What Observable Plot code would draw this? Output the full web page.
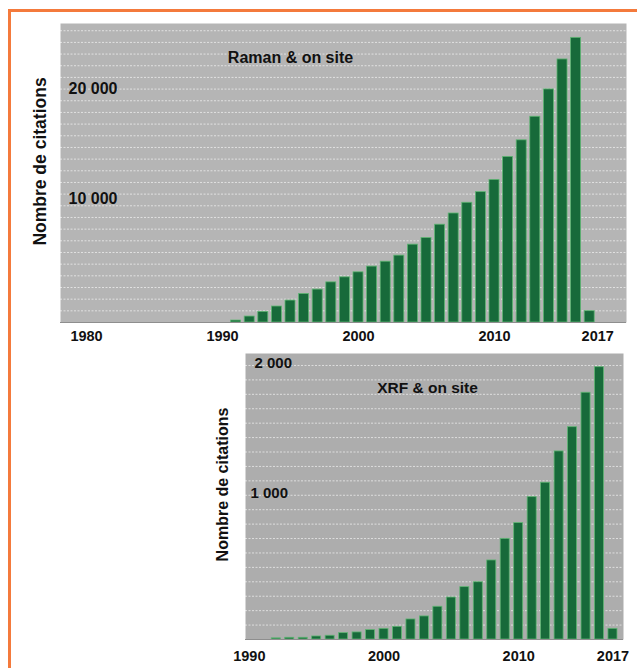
<!DOCTYPE html>
<html><head><meta charset="utf-8">
<script src="https://cdn.jsdelivr.net/npm/d3@7"></script>
<script src="https://cdn.jsdelivr.net/npm/@observablehq/plot@0.6"></script>
<style>
body{margin:0;background:#fff;}
#page{position:relative;width:637px;height:668px;overflow:hidden;font-family:"Liberation Sans",Arial,sans-serif;}
#border{position:absolute;left:8px;top:9px;width:700px;height:700px;border-top:3px solid #f47a3c;border-left:3px solid #f47a3c;}
#top{position:absolute;left:0;top:0;}
#bottom{position:absolute;left:0;top:345px;}
</style></head>
<body><div id="page"><div id="border"></div><div id="top"></div><div id="bottom"></div></div>
<script>
// ---- Data: Raman & on site ----
const ramanYears = [1991,1992,1993,1994,1995,1996,1997,1998,1999,2000,2001,2002,2003,2004,2005,2006,2007,2008,2009,2010,2011,2012,2013,2014,2015,2016,2017];
const ramanValues = [170,510,910,1370,1880,2450,2820,3440,3870,4300,4790,5210,5730,6670,7240,8380,9340,10260,11170,12220,14190,15610,17630,19970,22540,24390,970];
const ramanYearDomain = d3.range(1980, 2018);
const ramanXTicks = [1980, 1990, 2000, 2010];
const ramanXLastTick = [2017];
const ramanYTickValues = [10000, 20000];
const ramanYTickLabels = ["10 000", "20 000"];
const ramanGrid = d3.range(1000, 26000, 1000);
const ramanTitle = "Raman & on site";

// ---- Data: XRF & on site ----
const xrfYears = [1992,1993,1994,1995,1996,1997,1998,1999,2000,2001,2002,2003,2004,2005,2006,2007,2008,2009,2010,2011,2012,2013,2014,2015,2016,2017];
const xrfValues = [8,12,12,21,26,44,49,65,74,88,139,160,227,291,363,397,548,698,807,987,1087,1304,1472,1711,1888,74];
const xrfYearDomain = d3.range(1990, 2018);
const xrfXTicks = [1990, 2000, 2010, 2017];
const xrfYTickValues = [1000, 2000];
const xrfYTickLabels = ["1 000", "2 000"];
const xrfGrid = d3.range(100, 2000, 100);
const xrfTitle = "XRF & on site";

const yTitle = "Nombre de citations";

const ramanData = ramanYears.map((year, i) => ({year, value: ramanValues[i]}));
const xrfData = xrfYears.map((year, i) => ({year, value: xrfValues[i]}));

const FONT = '"Liberation Sans", Arial, sans-serif';
const barFill = "#176a3a";
const barStroke = "#5fb673";
const bold = {fontWeight: "bold", fill: "#111"};
const yearFmt = d => String(d);

const topPlot = Plot.plot({
  width: 637, height: 345,
  marginTop: 23, marginBottom: 23, marginLeft: 60, marginRight: 11,
  x: {type: "band", domain: ramanYearDomain, range: [79.2, 596], round: false, paddingInner: 0.265, paddingOuter: 0.1325, axis: null},
  y: {domain: [0, 25620], axis: null},
  style: {fontFamily: FONT, background: "transparent", color: "#111", overflow: "visible"},
  marks: [
    Plot.frame({fill: "#b5b5b5", stroke: "none"}),
    Plot.ruleY(ramanGrid, {stroke: "#ffffff", strokeOpacity: 0.6, strokeDasharray: "2,1.5"}),
    Plot.barY(ramanData, {x: "year", y: "value", fill: barFill, stroke: barStroke, strokeWidth: 0.8}),
    Plot.ruleY([0], {stroke: "#8e8e8e"}),
    Plot.axisX({ticks: ramanXTicks, tickFormat: yearFmt, tickSize: 0, tickPadding: 8.5, fontSize: 14.5, label: null, ...bold}),
    Plot.axisX({ticks: ramanXLastTick, tickFormat: yearFmt, tickSize: 0, tickPadding: 8.5, dx: 8, fontSize: 14.5, label: null, ...bold}),
    Plot.text([0], {y: () => ramanYTickValues[1], text: () => ramanYTickLabels[1], frameAnchor: "left", dx: 8, textAnchor: "start", lineAnchor: "middle", fontSize: 16, ...bold}),
    Plot.text([0], {y: () => ramanYTickValues[0], text: () => ramanYTickLabels[0], frameAnchor: "left", dx: 8, dy: -7, textAnchor: "start", lineAnchor: "middle", fontSize: 16, ...bold}),
    Plot.text([ramanTitle], {frameAnchor: "top", lineAnchor: "middle", dx: -53, dy: 34, fontSize: 16, ...bold}),
    Plot.text([yTitle], {frameAnchor: "left", textAnchor: "middle", lineAnchor: "middle", rotate: -90, dx: -20, dy: -11.5, fontSize: 17.5, ...bold})
  ]
});
document.getElementById("top").appendChild(topPlot);

const bottomPlot = Plot.plot({
  width: 637, height: 323,
  marginTop: 8, marginBottom: 29, marginLeft: 245, marginRight: 14,
  x: {type: "band", domain: xrfYearDomain, range: [242.1, 619.2], round: false, paddingInner: 0.33, paddingOuter: 0.165, axis: null},
  y: {domain: [0, 1983], axis: null},
  style: {fontFamily: FONT, background: "transparent", color: "#111", overflow: "visible"},
  marks: [
    Plot.frame({fill: "#adadad", stroke: "none"}),
    Plot.ruleY(xrfGrid, {stroke: "#ffffff", strokeOpacity: 0.6, strokeDasharray: "2,1.5"}),
    Plot.barY(xrfData, {x: "year", y: "value", fill: barFill, stroke: barStroke, strokeWidth: 0.8}),
    Plot.ruleY([0], {stroke: "#8e8e8e"}),
    Plot.axisX({ticks: xrfXTicks, tickFormat: yearFmt, tickSize: 0, tickPadding: 11, fontSize: 14.5, label: null, ...bold}),
    Plot.text([0], {y: () => xrfYTickValues[1], text: () => xrfYTickLabels[1], frameAnchor: "left", dx: 9, dy: 12.5, textAnchor: "start", lineAnchor: "middle", fontSize: 15, ...bold}),
    Plot.text([0], {y: () => xrfYTickValues[0], text: () => xrfYTickLabels[0], frameAnchor: "left", dx: 5, dy: -2, textAnchor: "start", lineAnchor: "middle", fontSize: 15, ...bold}),
    Plot.text([xrfTitle], {frameAnchor: "top", lineAnchor: "middle", dx: -7, dy: 35, fontSize: 15.5, ...bold}),
    Plot.text([yTitle], {frameAnchor: "left", textAnchor: "middle", lineAnchor: "middle", rotate: -90, dx: -23, dy: -12, fontSize: 16, ...bold})
  ]
});
document.getElementById("bottom").appendChild(bottomPlot);
</script>
</body></html>
